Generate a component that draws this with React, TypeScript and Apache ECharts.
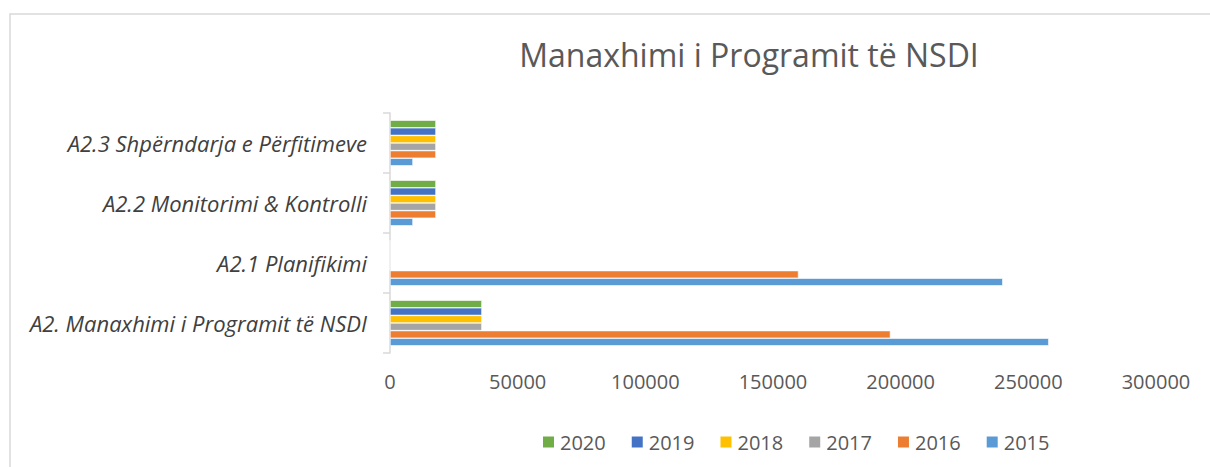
import React, { useEffect, useRef } from "react";
import * as echarts from "echarts";

const categories = [
  "A2. Manaxhimi i Programit të NSDI",
  "A2.1 Planifikimi",
  "A2.2 Monitorimi & Kontrolli",
  "A2.3 Shpërndarja e Përfitimeve",
];
const years = ["2015", "2016", "2017", "2018", "2019", "2020"];
const values2015 = [258000, 240000, 9000, 9000];
const values2016 = [196000, 160000, 18000, 18000];
const values2017 = [36000, 0, 18000, 18000];
const values2018 = [36000, 0, 18000, 18000];
const values2019 = [36000, 0, 18000, 18000];
const values2020 = [36000, 0, 18000, 18000];
const seriesValues = [values2015, values2016, values2017, values2018, values2019, values2020];
const colors = ["#5B9BD5", "#ED7D31", "#A5A5A5", "#FFC000", "#4472C4", "#70AD47"];
const legendOrder = ["2020", "2019", "2018", "2017", "2016", "2015"];
const titleText = "Manaxhimi i Programit të NSDI";

export default function App() {
  const ref = useRef<HTMLDivElement>(null);
  useEffect(() => {
    if (!ref.current) return;
    const chart = echarts.init(ref.current, null, { renderer: "svg" });
    const font = "Open Sans";
    // ECharts stacks horizontal bars top-down in series order, so feed 2020 first
    const order = years.map((_, i) => i).reverse();
    chart.setOption({
      animation: false,
      backgroundColor: "#ffffff",
      title: {
        text: titleText,
        left: 744,
        top: 33,
        textAlign: "center",
        textStyle: { fontFamily: font, fontSize: 32, fontWeight: "normal", color: "#595959" },
      },
      graphic: [
        {
          type: "rect",
          shape: { x: 10, y: 14, width: 1400, height: 600 },
          style: { fill: "none", stroke: "#d9d9d9", lineWidth: 1.5 },
          silent: true,
        },
      ],
      legend: {
        data: legendOrder,
        left: 536,
        top: 427,
        itemWidth: 13,
        itemHeight: 13,
        itemGap: 24,
        icon: "rect",
        textStyle: { fontFamily: font, fontSize: 20, color: "#595959" },
      },
      grid: { left: 390, right: 54, top: 113, bottom: 114 },
      xAxis: {
        type: "value",
        min: 0,
        max: 300000,
        interval: 50000,
        axisLine: { show: false },
        axisTick: { show: false },
        splitLine: { show: false },
        axisLabel: {
          fontFamily: font,
          fontSize: 20,
          color: "#595959",
          margin: 18,
          formatter: (v: number) => String(v),
        },
      },
      yAxis: {
        type: "category",
        data: categories,
        axisLine: { show: true, lineStyle: { color: "#d9d9d9", width: 1.5 } },
        axisTick: { show: true, length: 7, lineStyle: { color: "#d9d9d9", width: 1.5 } },
        axisLabel: {
          fontFamily: font,
          fontStyle: "italic",
          fontSize: 22,
          color: "#404040",
          margin: 23,
        },
      },
      series: order.map((i) => ({
        name: years[i],
        type: "bar",
        data: seriesValues[i],
        itemStyle: { color: colors[i], borderColor: "#ffffff", borderWidth: 0.6 },
        barGap: "0%",
        barCategoryGap: "24%",
      })),
    });
    return () => chart.dispose();
  }, []);
  return (
    <div
      ref={ref}
      style={{ position: "fixed", left: 0, top: 0, width: 1210, height: 467 }}
    />
  );
}
